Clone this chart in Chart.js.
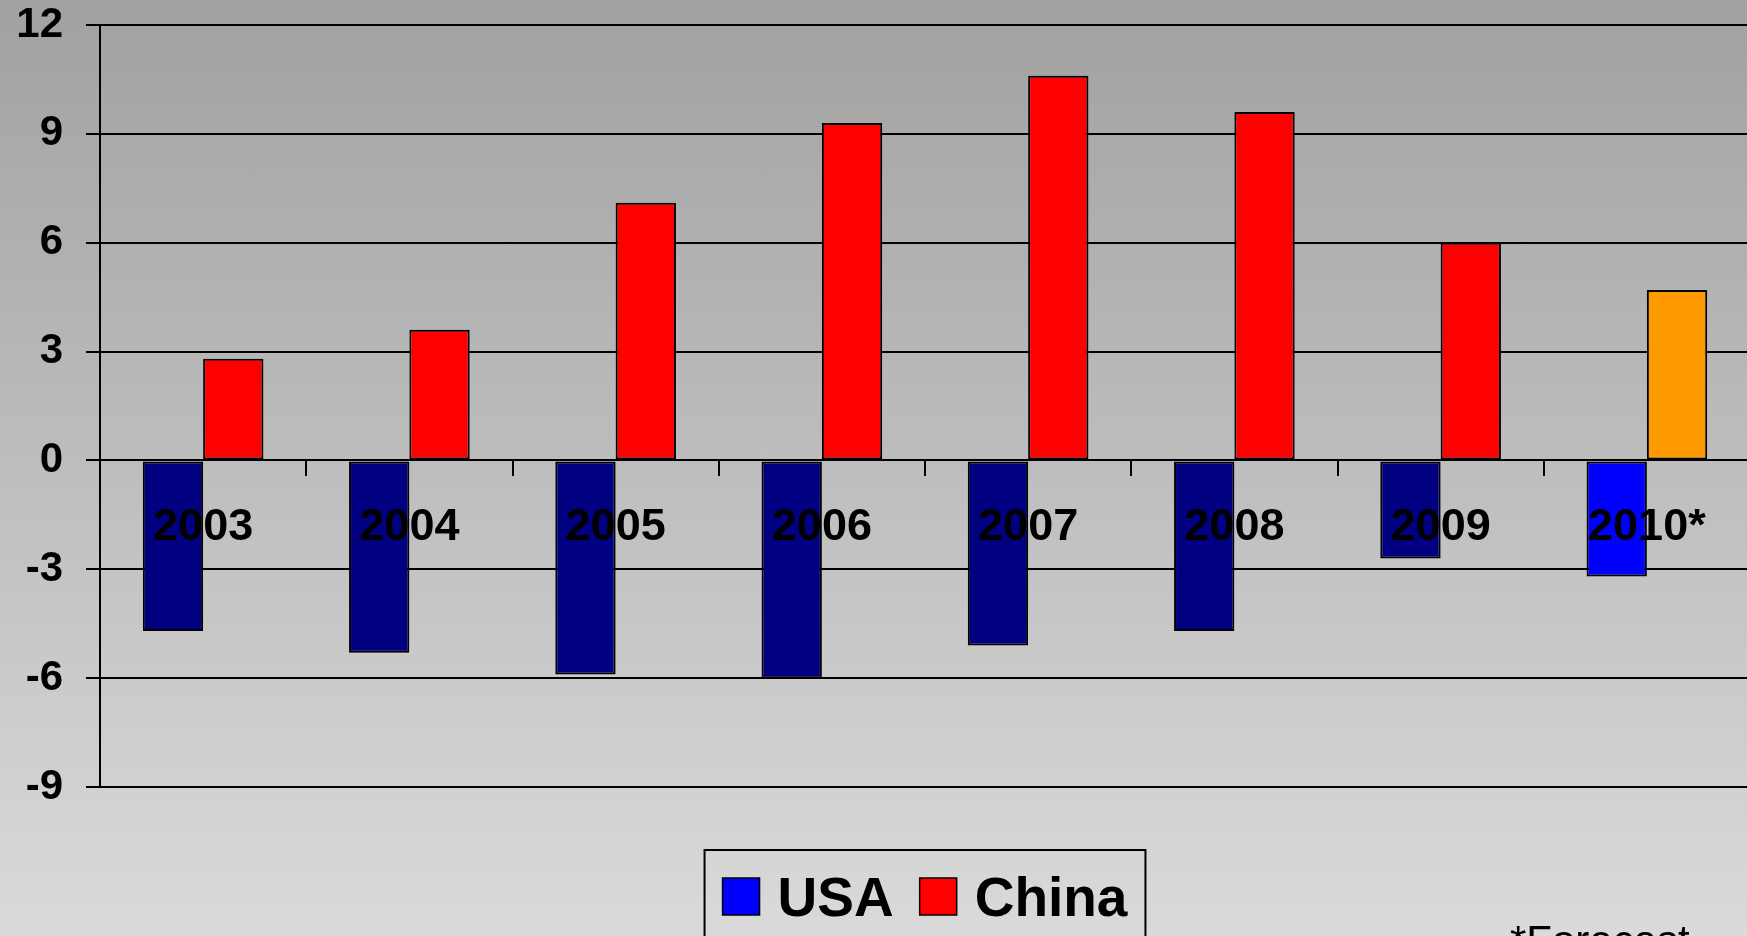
<!DOCTYPE html>
<html>
<head>
<meta charset="utf-8">
<script src="https://cdn.jsdelivr.net/npm/chart.js@4/dist/chart.umd.min.js"></script>
<style>
  html, body {
    margin: 0;
    padding: 0;
    overflow: hidden;
    background: linear-gradient(to bottom, #a1a1a1 0%, #dadada 100%);
  }
  #wrap { width: 1750px; height: 936px; }
</style>
</head>
<body>
<div id="wrap"><canvas id="balance" width="1750" height="936"></canvas></div>
<script>
// current account balance, % of GDP
const years = ["2003", "2004", "2005", "2006", "2007", "2008", "2009", "2010*"];
const usa = [-4.7, -5.3, -5.9, -6.0, -5.1, -4.7, -2.7, -3.2];
const china = [2.8, 3.6, 7.1, 9.3, 10.6, 9.6, 6.0, 4.7];
const usaColors = ["#000080", "#000080", "#000080", "#000080", "#000080", "#000080", "#000080", "#0000FF"];
const chinaColors = ["#FF0000", "#FF0000", "#FF0000", "#FF0000", "#FF0000", "#FF0000", "#FF0000", "#FF9900"];
const legendColors = ["#0000FF", "#FF0000"];
const footnote = "*Forecast";

const FONT = "'Liberation Sans', Arial, Helvetica, sans-serif";

// boxed legend under the plot, centred on the chart area
const boxedLegend = {
  id: "boxedLegend",
  afterDraw(chart) {
    const ctx = chart.ctx;
    const area = chart.chartArea;
    const sq = 37, gap = 18, pad = 18, between = 26;
    ctx.save();
    ctx.font = "bold 55px " + FONT;
    const labels = chart.data.datasets.map((d) => d.label);
    const widths = labels.map((t) => ctx.measureText(t).width);
    let total = pad * 2 + between * (labels.length - 1);
    widths.forEach((w) => (total += sq + gap + w));
    const left = (area.left + area.right) / 2 - total / 2;
    const top = area.bottom + 63;

    ctx.strokeStyle = "#000";
    ctx.lineWidth = 2;
    ctx.strokeRect(left, top, total, 110);

    let x = left + pad;
    labels.forEach((t, i) => {
      ctx.fillStyle = legendColors[i];
      ctx.fillRect(x, top + 28, sq, sq);
      ctx.lineWidth = 1.5;
      ctx.strokeRect(x, top + 28, sq, sq);
      x += sq + gap;
      ctx.fillStyle = "#000";
      ctx.textBaseline = "alphabetic";
      ctx.fillText(t, x, top + 66);
      x += widths[i] + between;
    });

    ctx.font = "42px " + FONT;
    ctx.fillText(footnote, 1510, 955);
    ctx.restore();
  },
};

// scales keep no extra room for overhanging labels
function noOverhang(scale) {
  scale.paddingTop = 0;
  scale.paddingBottom = 0;
  scale.paddingLeft = 0;
  scale.paddingRight = 0;
}

new Chart(document.getElementById("balance"), {
  type: "bar",
  data: {
    labels: years,
    datasets: [
      {
        label: "USA",
        data: usa,
        backgroundColor: usaColors,
        borderColor: "#000",
        borderWidth: 2,
        borderSkipped: false,
        categoryPercentage: 0.585,
        barPercentage: 1.0,
      },
      {
        label: "China",
        data: china,
        backgroundColor: chinaColors,
        borderColor: "#000",
        borderWidth: 2,
        borderSkipped: false,
        categoryPercentage: 0.585,
        barPercentage: 1.0,
      },
    ],
  },
  options: {
    responsive: false,
    animation: false,
    layout: { padding: { top: 25, left: 0, right: 0, bottom: 149 } },
    plugins: {
      legend: { display: false },
      tooltip: { enabled: false },
    },
    scales: {
      x: {
        position: { y: 0 },
        offset: true,
        afterFit: noOverhang,
        grid: {
          drawOnChartArea: false,
          drawTicks: true,
          tickLength: 15,
          color: "#000",
          lineWidth: 2,
          offset: true,
        },
        border: { display: true, color: "#000", width: 2 },
        ticks: {
          z: 1, // year labels sit on top of the bars
          color: "#000",
          font: { family: FONT, size: 45, weight: "bold" },
          padding: 25,
          maxRotation: 0,
          autoSkip: false,
        },
      },
      y: {
        min: -9,
        max: 12,
        afterFit(scale) {
          noOverhang(scale);
          scale.width = 100;
        },
        grid: { color: "#000", lineWidth: 2, tickLength: 14 },
        border: { color: "#000", width: 2 },
        ticks: {
          stepSize: 3,
          color: "#000",
          font: { family: FONT, size: 42, weight: "bold" },
          padding: 23,
        },
      },
    },
  },
  plugins: [boxedLegend],
});
</script>
</body>
</html>
